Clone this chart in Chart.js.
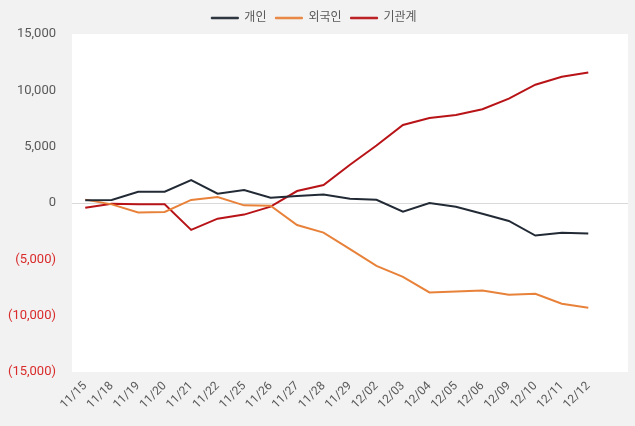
<!DOCTYPE html>
<html>
<head>
<meta charset="utf-8">
<script src="https://cdn.jsdelivr.net/npm/chart.js@4"></script>
<style>
  html, body { margin: 0; padding: 0; background: #f2f2f2; }
  #wrap { width: 635px; height: 426px; }
</style>
</head>
<body>
<div id="wrap"><canvas id="flowChart"></canvas></div>
<script>
// dates (last slot is left empty, as in the original sheet)
const dates = ['11/15', '11/18', '11/19', '11/20', '11/21', '11/22', '11/25', '11/26', '11/27', '11/28',
  '11/29', '12/02', '12/03', '12/04', '12/05', '12/06', '12/09', '12/10', '12/11', '12/12', ''];

const individual = [240, 270, 1000, 1000, 2030, 820, 1150, 470, 620, 750,
  380, 290, -770, 0, -330, -950, -1590, -2890, -2630, -2710, null];
const foreign = [300, -120, -850, -800, 270, 530, -210, -240, -1950, -2630,
  -4100, -5580, -6550, -7940, -7850, -7760, -8140, -8050, -8940, -9290, null];
const institution = [-420, -60, -120, -120, -2390, -1390, -1030, -320, 1060, 1590,
  3400, 5100, 6930, 7550, 7820, 8320, 9260, 10500, 11210, 11590, null];

const yTicks = [-15000, -10000, -5000, 0, 5000, 10000, 15000];

const fontFamily = "Roboto, 'Noto Sans CJK KR', sans-serif";

function fmt(v) {
  const s = Math.abs(v).toLocaleString('en-US');
  return v < 0 ? '(' + s + ')' : s;
}

// white plot area on gray page
const plotBg = {
  id: 'plotBg',
  beforeDraw(chart) {
    const { ctx, chartArea } = chart;
    ctx.save();
    ctx.fillStyle = '#f2f2f2';
    ctx.fillRect(0, 0, chart.width, chart.height);
    ctx.fillStyle = '#ffffff';
    ctx.fillRect(chartArea.left, chartArea.top, chartArea.right - chartArea.left, chartArea.bottom - chartArea.top);
    ctx.restore();
  }
};

function line(label, data, color) {
  return {
    label: label,
    data: data,
    borderColor: color,
    backgroundColor: color,
    borderWidth: 2,
    pointRadius: 0,
    tension: 0,
    spanGaps: false
  };
}

const ctx = document.getElementById('flowChart').getContext('2d');
new Chart(ctx, {
  type: 'line',
  data: {
    labels: dates,
    datasets: [
      line('개인', individual, '#222a35'),
      line('외국인', foreign, '#e8823a'),
      line('기관계', institution, '#b81418')
    ]
  },
  options: {
    responsive: true,
    maintainAspectRatio: false,
    animation: false,
    layout: { padding: { top: 3, right: 7, left: 0, bottom: 0 } },
    plugins: {
      legend: {
        position: 'top',
        labels: {
          boxWidth: 27,
          boxHeight: 1.5,
          padding: 9,
          color: '#595959',
          font: { family: fontFamily, size: 12 },
          generateLabels(chart) {
            return Chart.defaults.plugins.legend.labels.generateLabels(chart)
              .map(item => Object.assign(item, { lineWidth: 1 }));
          }
        }
      },
      tooltip: { enabled: false }
    },
    scales: {
      x: {
        offset: true,
        grid: { display: false, drawTicks: false },
        border: { display: false },
        ticks: {
          autoSkip: false,
          maxRotation: 45,
          minRotation: 45,
          padding: 7,
          color: '#595959',
          font: { family: fontFamily, size: 12 }
        },
        afterFit(scale) { scale.height = 54; }
      },
      y: {
        min: -15000,
        max: 15000,
        afterBuildTicks(scale) { scale.ticks = yTicks.map(v => ({ value: v })); },
        grid: {
          drawTicks: false,
          color: c => (c.tick && c.tick.value === 0 ? '#d9d9d9' : 'transparent'),
          lineWidth: 1
        },
        border: { display: false },
        ticks: {
          padding: 16,
          callback: v => fmt(v),
          color: c => (c.tick && c.tick.value < 0 ? '#d92b2b' : '#595959'),
          font: { family: fontFamily, size: 13 }
        },
        afterFit(scale) { scale.width = 72; }
      }
    }
  },
  plugins: [plotBg]
});
</script>
</body>
</html>
